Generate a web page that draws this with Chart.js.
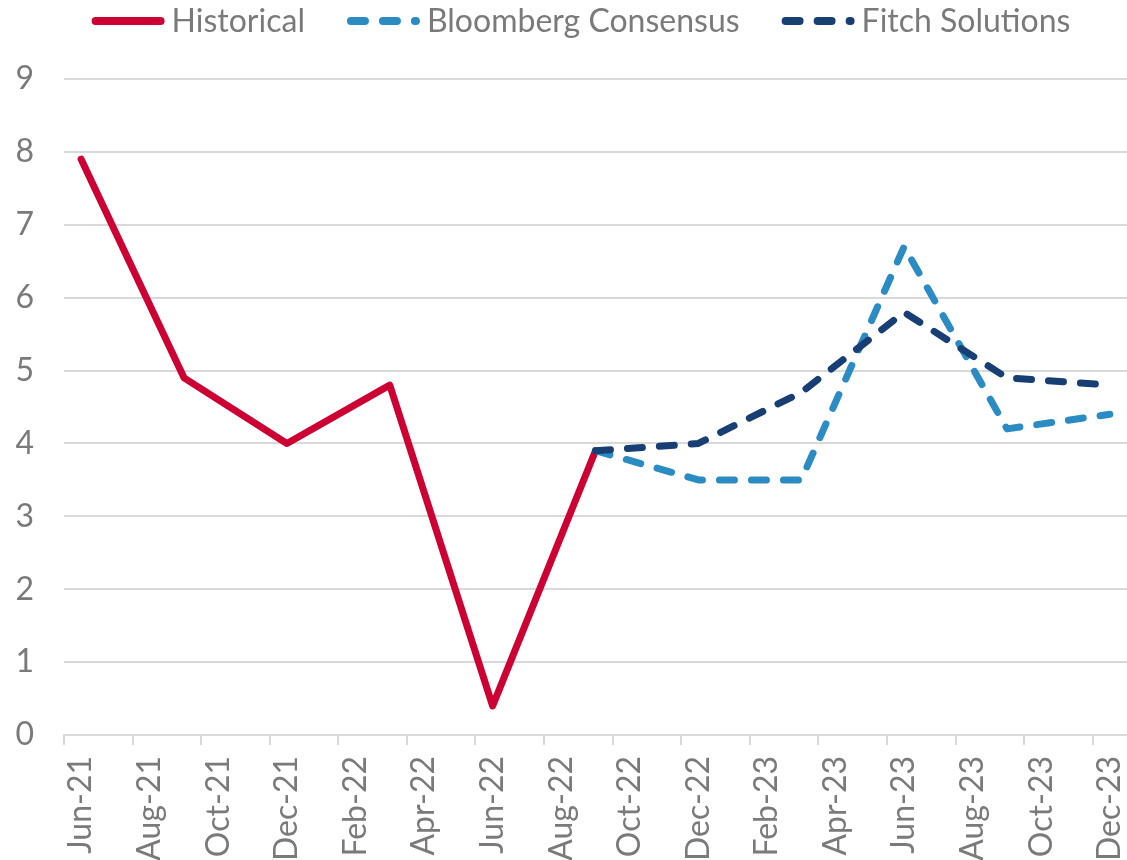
<!DOCTYPE html>
<html>
<head>
<meta charset="utf-8">
<script src="https://cdn.jsdelivr.net/npm/chart.js@4/dist/chart.umd.min.js"></script>
<style>
  html, body { margin: 0; padding: 0; background: #ffffff; }
  #wrap { width: 1127px; height: 860px; position: relative; }
</style>
</head>
<body>
<div id="wrap"><canvas id="c"></canvas></div>
<script>
// Monthly category axis (labels shown every second month)
const months = ['Jun-21','Jul-21','Aug-21','Sep-21','Oct-21','Nov-21','Dec-21',
  'Jan-22','Feb-22','Mar-22','Apr-22','May-22','Jun-22','Jul-22','Aug-22','Sep-22','Oct-22','Nov-22','Dec-22',
  'Jan-23','Feb-23','Mar-23','Apr-23','May-23','Jun-23','Jul-23','Aug-23','Sep-23','Oct-23','Nov-23','Dec-23'];

// Historical series (quarterly)
const histDates = ['Jun-21','Sep-21','Dec-21','Mar-22','Jun-22','Sep-22'];
const histValues = [7.9, 4.9, 4.0, 4.8, 0.4, 3.9];

// Forecast series (quarterly)
const forecastDates = ['Sep-22','Dec-22','Mar-23','Jun-23','Sep-23','Dec-23'];
const bloombergValues = [3.9, 3.5, 3.5, 6.7, 4.2, 4.4];
const fitchValues = [3.9, 4.0, 4.7, 5.8, 4.9, 4.8];

const yTicks = [0,1,2,3,4,5,6,7,8,9];

const toPoints = (dates, vals) => dates.map((d, i) => ({ x: d, y: vals[i] }));

const GREY = '#7a7a7a';
const GRID = '#d9d9d9';
const FONT = 'Lato';

// Legend drawn with the datasets' own colours and dash styles
const lineLegend = {
  id: 'lineLegend',
  afterDraw(chart) {
    const ctx = chart.ctx;
    const items = chart.data.datasets;
    ctx.save();
    ctx.font = '32px ' + FONT;
    const lineLen = 65, cap = 4, textGap = 7, itemGap = 42;
    const widths = items.map(ds => ctx.measureText(ds.label).width);
    let total = 0;
    widths.forEach((w, i) => { total += lineLen + 2 * cap + textGap + w + (i < widths.length - 1 ? itemGap : 0); });
    let x = 581 - total / 2;
    const y = 21;
    items.forEach((ds, i) => {
      ctx.strokeStyle = ds.borderColor;
      ctx.lineWidth = 8;
      ctx.lineCap = 'round';
      ctx.setLineDash(ds.borderDash ? [14, 18] : []);
      ctx.beginPath();
      ctx.moveTo(x + cap, y);
      ctx.lineTo(x + cap + lineLen, y);
      ctx.stroke();
      ctx.setLineDash([]);
      ctx.fillStyle = GREY;
      ctx.textBaseline = 'middle';
      ctx.textAlign = 'left';
      const tx = x + lineLen + 2 * cap + textGap;
      ctx.fillText(ds.label, tx, y + 1);
      x = tx + widths[i] + itemGap;
    });
    ctx.restore();
  }
};

new Chart(document.getElementById('c'), {
  type: 'line',
  data: {
    labels: months,
    datasets: [
      {
        label: 'Historical',
        data: toPoints(histDates, histValues),
        borderColor: '#cc0033',
        backgroundColor: '#cc0033',
        borderWidth: 7,
        borderCapStyle: 'round',
        borderJoinStyle: 'round',
        pointRadius: 0,
        tension: 0,
        order: 3
      },
      {
        label: 'Bloomberg Consensus',
        data: toPoints(forecastDates, bloombergValues),
        borderColor: '#2b8bc3',
        backgroundColor: '#2b8bc3',
        borderWidth: 7,
        borderDash: [15, 17],
        borderCapStyle: 'round',
        borderJoinStyle: 'round',
        pointRadius: 0,
        tension: 0,
        order: 2
      },
      {
        label: 'Fitch Solutions',
        data: toPoints(forecastDates, fitchValues),
        borderColor: '#173f73',
        backgroundColor: '#173f73',
        borderWidth: 7,
        borderDash: [15, 17],
        borderCapStyle: 'round',
        borderJoinStyle: 'round',
        pointRadius: 0,
        tension: 0,
        order: 1
      }
    ]
  },
  plugins: [lineLegend],
  options: {
    responsive: true,
    maintainAspectRatio: false,
    animation: false,
    spanGaps: true,
    layout: { padding: { left: 0, right: -2, top: 79, bottom: 0 } },
    plugins: {
      tooltip: { enabled: false },
      legend: { display: false }
    },
    scales: {
      x: {
        type: 'category',
        offset: true,
        border: { display: true, color: GRID, width: 2 },
        grid: {
          offset: true,
          drawOnChartArea: false,
          drawTicks: true,
          tickLength: 10,
          lineWidth: 2,
          color: (ctx) => (ctx.index % 2 === 0 ? GRID : 'rgba(0,0,0,0)')
        },
        afterFit: (scale) => { scale.height = 125; scale.paddingLeft = 0; scale.paddingRight = 0; },
        ticks: {
          autoSkip: false,
          maxRotation: 90,
          minRotation: 90,
          padding: 11,
          color: GREY,
          font: { family: FONT, size: 32 },
          callback: function (val, i) { return i % 2 === 0 ? this.getLabelForValue(val) : ''; }
        }
      },
      y: {
        min: 0,
        max: 9,
        border: { display: false },
        grid: { color: GRID, lineWidth: 2, drawTicks: false },
        afterBuildTicks: (scale) => { scale.ticks = yTicks.map(v => ({ value: v })); },
        afterFit: (scale) => { scale.width = 64; },
        ticks: {
          padding: 30,
          color: GREY,
          font: { family: FONT, size: 32 }
        }
      }
    }
  }
});
</script>
</body>
</html>
